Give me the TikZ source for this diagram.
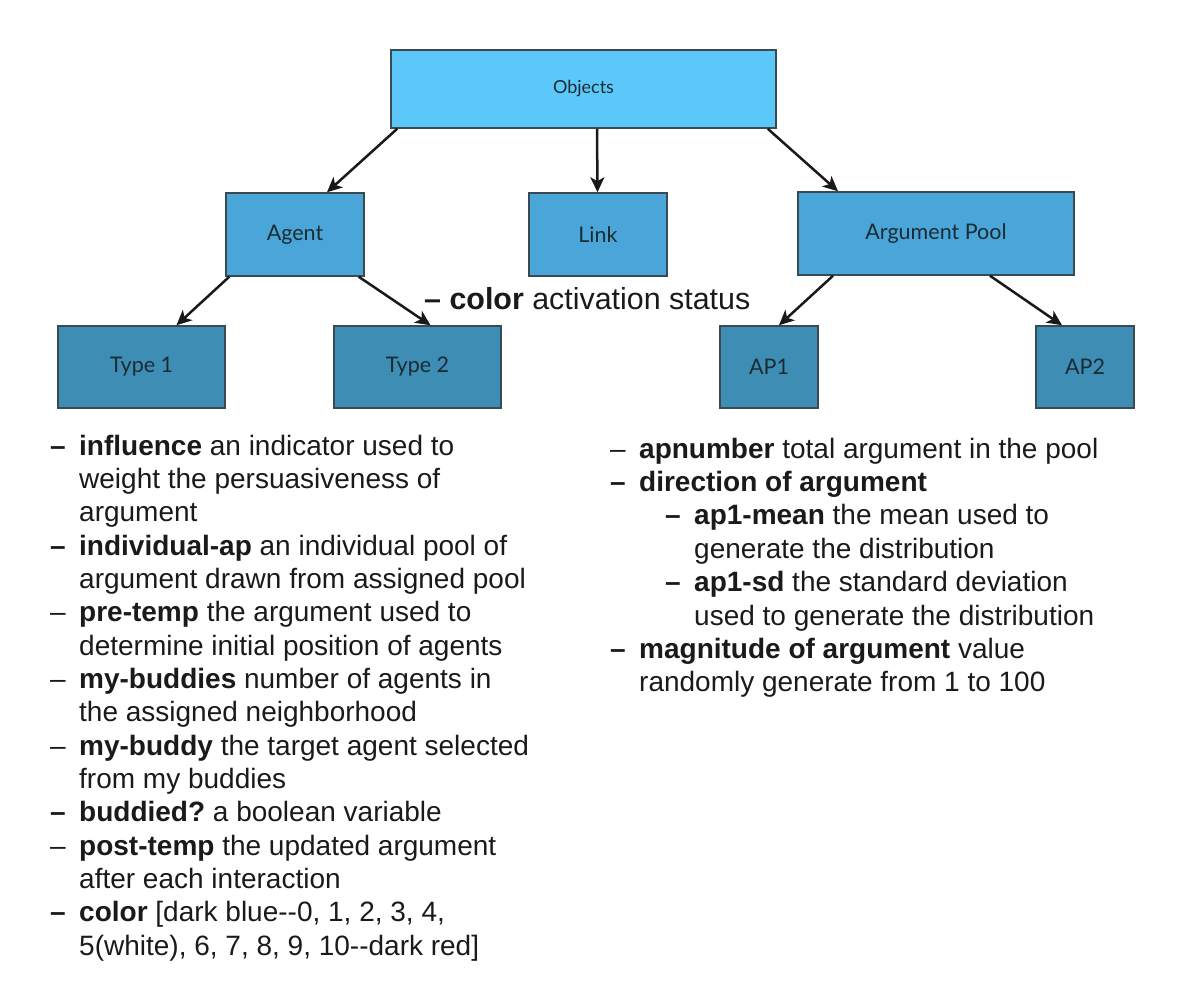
\documentclass[tikz,border=0pt]{standalone}
\usepackage{fontspec}
\setmainfont{Liberation Sans}
\newfontfamily\boxfont{Lato}
\usetikzlibrary{arrows.meta}
\definecolor{topfill}{HTML}{5BC8F9}
\definecolor{midfill}{HTML}{4AA5D8}
\definecolor{lowfill}{HTML}{3E8DB5}
\definecolor{boxline}{HTML}{3A4A52}
\definecolor{boxtext}{HTML}{1B2B33}
\definecolor{txt}{HTML}{1A1A1A}
\tikzset{
  objbox/.style={draw=boxline, line width=1.5pt, inner sep=0pt, font=\boxfont\fontsize{21.5}{24}\selectfont, text=boxtext},
  conn/.style={-{Stealth[length=15pt,width=14pt,inset=4pt]}, line width=2.5pt, black!90},
  item/.style={anchor=base west, inner sep=0pt, text=txt, font=\fontsize{28}{33}\selectfont},
}
\newcommand{\bd}{\textbf{--}}
\newcommand{\td}{--}
\frenchspacing
\begin{document}
\begin{tikzpicture}[x=1pt,y=-1pt]
\useasboundingbox (0,0) rectangle (1178,984);
% boxes
\node[objbox, fill=topfill, minimum width=385pt, minimum height=78pt, font=\boxfont\fontsize{18}{22}\selectfont] (obj) at (583.5,89) {Objects};
\node[objbox, fill=midfill, minimum width=138pt, minimum height=83pt] (agent) at (295,234.5) {Agent};
\node[objbox, fill=midfill, minimum width=138pt, minimum height=83pt] (link) at (598,234.5) {Link};
\node[objbox, fill=midfill, minimum width=276pt, minimum height=83pt] (pool) at (936,233.5) {Argument Pool};
\node[objbox, fill=lowfill, minimum width=167pt, minimum height=82pt] (t1) at (141.5,367) {Type 1};
\node[objbox, fill=lowfill, minimum width=167pt, minimum height=82pt] (t2) at (417.5,367) {Type 2};
\node[objbox, fill=lowfill, minimum width=98pt, minimum height=82pt] (ap1) at (769,367) {AP1};
\node[objbox, fill=lowfill, minimum width=98pt, minimum height=82pt] (ap2) at (1085,367) {AP2};
% connectors
\draw[conn] ([xshift=7pt]obj.south west) -- ([xshift=32pt]agent.north);
\draw[conn] ([xshift=13.5pt]obj.south) -- ([xshift=-0.5pt]link.north);
\draw[conn] ([xshift=-9pt]obj.south east) -- ([xshift=-98pt]pool.north);
\draw[conn] ([xshift=4pt]agent.south west) -- ([xshift=35pt]t1.north);
\draw[conn] ([xshift=-6pt]agent.south east) -- ([xshift=13pt]t2.north);
\draw[conn] ([xshift=-103pt]pool.south) -- ([xshift=10pt]ap1.north);
\draw[conn] ([xshift=54pt]pool.south) -- ([xshift=-23pt]ap2.north);
% label between
\node[item, font=\fontsize{30.4}{36}\selectfont] (lab) at (424,310) {\bd\ \textbf{color} activation status};
% left list
\node[item] (l1) at (50,455) {\bd};
\node[item] (l1t) at (79,455) {\textbf{influence} an indicator used to};
\node[item] (l2t) at (79,488.3) {weight the persuasiveness of};
\node[item] (l3t) at (79,521.7) {argument};
\node[item] (l4) at (50,555) {\bd};
\node[item] (l4t) at (79,555) {\textbf{individual-ap} an individual pool of};
\node[item] (l5t) at (79,588.3) {argument drawn from assigned pool};
\node[item] (l6) at (50,621.7) {\td};
\node[item] (l6t) at (79,621.7) {\textbf{pre-temp} the argument used to};
\node[item] (l7t) at (79,655) {determine initial position of agents};
\node[item] (l8) at (50,688.3) {\td};
\node[item] (l8t) at (79,688.3) {\textbf{my-buddies} number of agents in};
\node[item] (l9t) at (79,721.7) {the assigned neighborhood};
\node[item] (l10) at (50,755) {\td};
\node[item] (l10t) at (79,755) {\textbf{my-buddy} the target agent selected};
\node[item] (l11t) at (79,788.3) {from my buddies};
\node[item] (l12) at (50,821.7) {\bd};
\node[item] (l12t) at (79,821.7) {\textbf{buddied?} a boolean variable};
\node[item] (l13) at (50,855) {\td};
\node[item] (l13t) at (79,855) {\textbf{post-temp} the updated argument};
\node[item] (l14t) at (79,888.3) {after each interaction};
\node[item] (l15) at (50,921.7) {\bd};
\node[item] (l15t) at (79,921.7) {\textbf{color} [dark blue-{}-0, 1, 2, 3, 4,};
\node[item] (l16t) at (79,955) {5(white), 6, 7, 8, 9, 10-{}-dark red]};
% right list
\node[item] (r1) at (610,458) {\td};
\node[item] (r1t) at (639,458) {\textbf{apnumber} total argument in the pool};
\node[item] (r2) at (610,491.4) {\bd};
\node[item] (r2t) at (639,491.4) {\textbf{direction of argument}};
\node[item] (r3) at (665,524.8) {\bd};
\node[item] (r3t) at (694,524.8) {\textbf{ap1-mean} the mean used to};
\node[item] (r4t) at (694,558.2) {generate the distribution};
\node[item] (r5) at (665,591.6) {\bd};
\node[item] (r5t) at (694,591.6) {\textbf{ap1-sd} the standard deviation};
\node[item] (r6t) at (694,625) {used to generate the distribution};
\node[item] (r7) at (610,658.4) {\bd};
\node[item] (r7t) at (639,658.4) {\textbf{magnitude of argument} value};
\node[item] (r8t) at (639,691.8) {randomly generate from 1 to 100};
\end{tikzpicture}
\end{document}
